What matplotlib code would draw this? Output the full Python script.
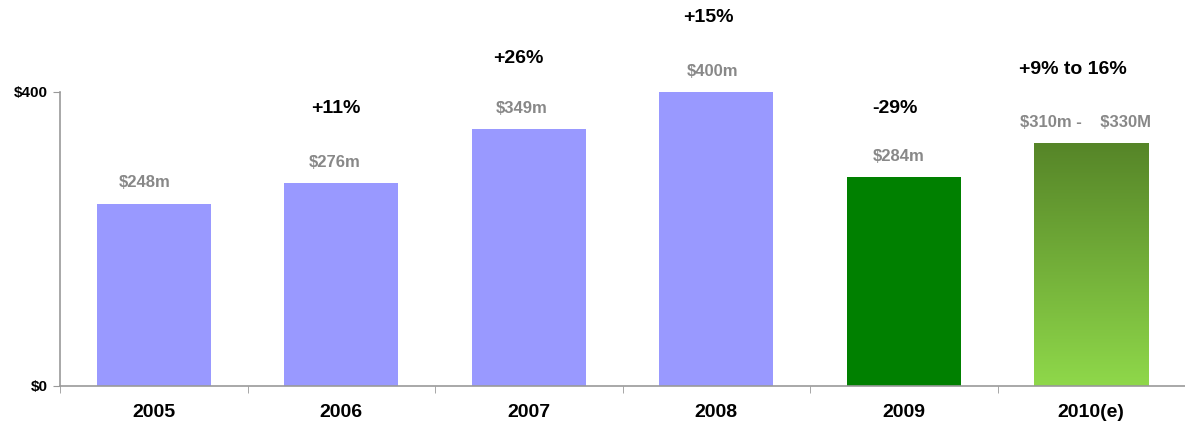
import numpy as np
import matplotlib
matplotlib.use("Agg")
import matplotlib.pyplot as plt
from matplotlib.colors import LinearSegmentedColormap

plt.rcParams['font.family'] = ['Liberation Sans', 'DejaVu Sans']

years = ['2005', '2006', '2007', '2008', '2009', '2010(e)']
revenue = [248, 276, 349, 400, 284, 330]
value_labels = [r'\$248m', r'\$276m', r'\$349m', r'\$400m', r'\$284m', r'\$310m -    \$330M']
growth_labels = ['', '+11%', '+26%', '+15%', '-29%', '+9% to 16%']
growth_y = [None, 377, 445, 501, 377, 430]

# horizontal nudges of the annotations, in pixels
value_dx = [-9, -7, -7, -4, -5, -6]
growth_dx = [0, -5, -10, -8, -9, -18]

fig = plt.figure(figsize=(11.85, 4.30), dpi=100)
ax = fig.add_axes([60 / 1185, 44 / 430, 1125 / 1185, 294 / 430])

x = np.arange(len(years))
colors = ['#9999ff'] * 4 + ['#008000', 'none']
bars = ax.bar(x, revenue, width=0.61, color=colors, zorder=2)

# gradient fill for the estimate bar
grad = LinearSegmentedColormap.from_list('g', ['#8fd84a', '#568528'])
b = bars[-1]
gx0, gy0 = b.get_x(), b.get_y()
ax.imshow(np.linspace(0, 1, 256).reshape(-1, 1), cmap=grad, origin='lower',
          extent=[gx0, gx0 + b.get_width(), gy0, gy0 + b.get_height()],
          aspect='auto', zorder=2)

for i, v in enumerate(revenue):
    ax.annotate(value_labels[i], (x[i], v + 18), xytext=(value_dx[i] * 0.72, 0),
                textcoords='offset points', ha='center', va='bottom',
                color='#888888', fontsize=12, fontweight='bold', annotation_clip=False)
    if growth_labels[i]:
        ax.annotate(growth_labels[i], (x[i], growth_y[i]), xytext=(growth_dx[i] * 0.72, 0),
                    textcoords='offset points', ha='center', va='center',
                    color='black', fontsize=14, fontweight='bold', annotation_clip=False)

ax.set_xlim(-0.5, len(years) - 0.5)
ax.set_ylim(0, 400)
ax.set_yticks([0, 400])
ax.set_yticklabels([r'\$0', r'\$400'], fontsize=11, fontweight='bold')
ax.set_xticks(x)
ax.set_xticklabels(years, fontsize=14, fontweight='bold')
ax.tick_params(axis='x', length=0, pad=13)
ax.tick_params(axis='y', length=5, color='#999999', pad=4)
ax.set_xticks(np.arange(-0.5, len(years), 1), minor=True)
ax.tick_params(axis='x', which='minor', length=5, color='#999999')

for s in ['top', 'right']:
    ax.spines[s].set_visible(False)
for s in ['left', 'bottom']:
    ax.spines[s].set_color('#999999')
    ax.spines[s].set_linewidth(1.2)

fig.savefig('out.png', dpi=100)
